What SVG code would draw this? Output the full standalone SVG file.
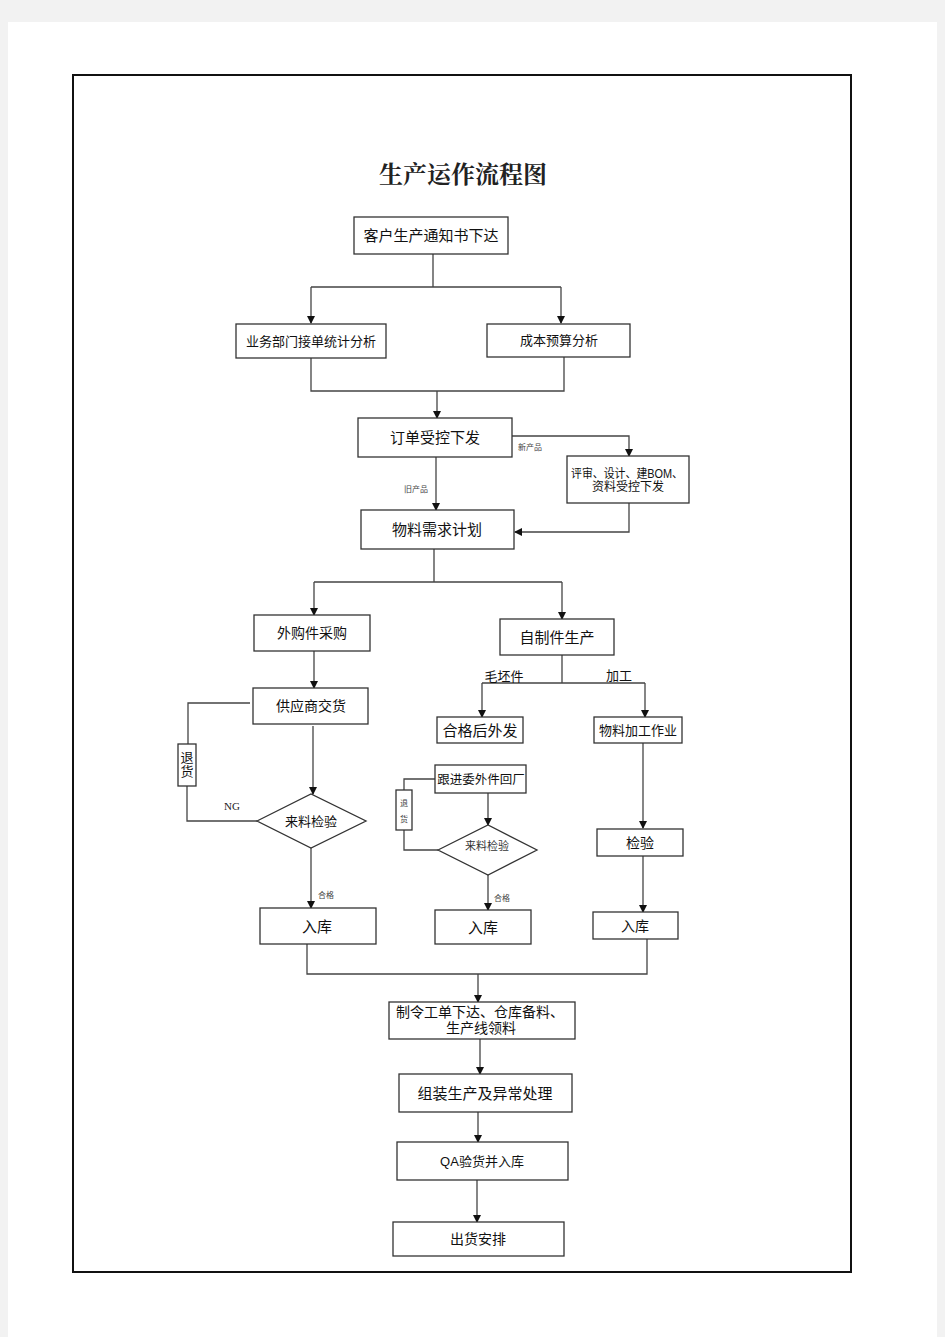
<svg xmlns="http://www.w3.org/2000/svg" width="945" height="1337" viewBox="0 0 945 1337">
<defs>
<marker id="ah" markerWidth="8" markerHeight="8" refX="7" refY="4" orient="auto" markerUnits="userSpaceOnUse">
<path d="M0,0 L8,4 L0,8 Z" fill="#111"/>
</marker>
<style>
.box{fill:#fff;stroke:#333;stroke-width:1.3}
.ln{fill:none;stroke:#444;stroke-width:1.3}
.t{font-family:"Liberation Sans","Noto Sans CJK SC",sans-serif;fill:#111;text-anchor:middle}
.s15{font-size:15px}
.s14{font-size:14px}
.s13{font-size:13px}
.sm{font-size:8px;fill:#444}
</style>
</defs>
<rect x="0" y="0" width="945" height="1337" fill="#f2f2f2"/>
<rect x="8" y="22" width="929" height="1315" fill="#fff"/>
<rect x="73" y="75" width="778" height="1197" fill="none" stroke="#111" stroke-width="2"/>
<text x="463" y="183" font-family="'Liberation Serif','Noto Serif CJK SC','Noto Sans CJK SC',serif" font-size="24" font-weight="bold" fill="#222" text-anchor="middle">生产运作流程图</text>

<g id="connectors">
<path class="ln" d="M433,254 V287 M311,287 H561"/>
<path class="ln" d="M311,287 V323" marker-end="url(#ah)"/>
<path class="ln" d="M561,287 V323" marker-end="url(#ah)"/>
<path class="ln" d="M311,358 V391 H564 V357"/>
<path class="ln" d="M437,391 V418" marker-end="url(#ah)"/>
<path class="ln" d="M512,436 H629 V456" marker-end="url(#ah)"/>
<path class="ln" d="M436,457 V510" marker-end="url(#ah)"/>
<path class="ln" d="M629,503 V532 H515" marker-end="url(#ah)"/>
<path class="ln" d="M434,549 V582 M314,582 H562"/>
<path class="ln" d="M314,582 V615" marker-end="url(#ah)"/>
<path class="ln" d="M562,582 V619" marker-end="url(#ah)"/>
<path class="ln" d="M314,651 V688" marker-end="url(#ah)"/>
<path class="ln" d="M250,703 H188 V744 M187,786 V821 H257"/>
<path class="ln" d="M313,726 V794" marker-end="url(#ah)"/>
<path class="ln" d="M311,848 V908" marker-end="url(#ah)"/>
<path class="ln" d="M562,655 V683 M482,683 H645"/>
<path class="ln" d="M482,683 V717" marker-end="url(#ah)"/>
<path class="ln" d="M645,683 V717" marker-end="url(#ah)"/>
<path class="ln" d="M435,779 H404 V790 M404,830 V850 H438"/>
<path class="ln" d="M488,793 V825" marker-end="url(#ah)"/>
<path class="ln" d="M488,875 V910" marker-end="url(#ah)"/>
<path class="ln" d="M643,743 V828" marker-end="url(#ah)"/>
<path class="ln" d="M643,856 V912" marker-end="url(#ah)"/>
<path class="ln" d="M307,944 V974 H647 V939"/>
<path class="ln" d="M478,974 V1002" marker-end="url(#ah)"/>
<path class="ln" d="M480,1039 V1074" marker-end="url(#ah)"/>
<path class="ln" d="M478,1112 V1142" marker-end="url(#ah)"/>
<path class="ln" d="M477,1180 V1222" marker-end="url(#ah)"/>
<text class="t sm" x="530" y="450">新产品</text>
<text class="t sm" x="416" y="492">旧产品</text>
<text x="232" y="810" font-family="'Liberation Serif',serif" font-size="11" fill="#222" text-anchor="middle">NG</text>
<text class="t sm" x="326" y="898">合格</text>
<text class="t sm" x="502" y="901">合格</text>
<text class="t s13" x="504" y="681">毛坯件</text>
<text class="t s13" x="619" y="680">加工</text>
</g>

<g id="n1"><rect class="box" x="354" y="217" width="154" height="37"/><text class="t s15" x="431" y="241">客户生产通知书下达</text></g>
<g id="n2"><rect class="box" x="236" y="324" width="150" height="34"/><text class="t s13" x="311" y="346">业务部门接单统计分析</text></g>
<g id="n3"><rect class="box" x="487" y="324" width="143" height="33"/><text class="t s13" x="559" y="345">成本预算分析</text></g>
<g id="n4"><rect class="box" x="358" y="418" width="154" height="39"/><text class="t s15" x="435" y="443">订单受控下发</text></g>
<g id="n5"><rect class="box" x="567" y="456" width="122" height="47"/><text class="t" style="font-size:12px" x="627" y="478" textLength="112" lengthAdjust="spacingAndGlyphs">评审、设计、建BOM、</text><text class="t" style="font-size:12px" x="628" y="491">资料受控下发</text></g>
<g id="n6"><rect class="box" x="361" y="510" width="153" height="39"/><text class="t s15" x="437" y="535">物料需求计划</text></g>
<g id="n7"><rect class="box" x="254" y="615" width="116" height="36"/><text class="t s14" x="312" y="638">外购件采购</text></g>
<g id="n8"><rect class="box" x="500" y="619" width="114" height="36"/><text class="t s15" x="557" y="643">自制件生产</text></g>
<g id="n9"><rect class="box" x="253" y="688" width="115" height="36"/><text class="t s14" x="311" y="711">供应商交货</text></g>
<g id="n10"><rect class="box" x="178" y="744" width="18" height="42"/><text class="t s13" x="187" y="762">退</text><text class="t s13" x="187" y="776">货</text></g>
<g id="n11"><polygon class="box" points="257,821 311,794 366,821 311,848"/><text class="t s13" x="311" y="826">来料检验</text></g>
<g id="n12"><rect class="box" x="260" y="908" width="116" height="36"/><text class="t s15" x="317" y="932">入库</text></g>
<g id="n13"><rect class="box" x="437" y="717" width="86" height="26"/><text class="t s15" x="480" y="736">合格后外发</text></g>
<g id="n14"><rect class="box" x="594" y="717" width="88" height="26"/><text class="t s13" x="638" y="735">物料加工作业</text></g>
<g id="n15"><rect class="box" x="435" y="765" width="91" height="28"/><text class="t" style="font-size:12.5px" x="481" y="784">跟进委外件回厂</text></g>
<g id="n16"><rect class="box" x="396" y="790" width="16" height="40"/><text class="t sm" x="404" y="806">退</text><text class="t sm" x="404" y="822">货</text></g>
<g id="n17"><polygon class="box" points="438,850 488,825 537,850 488,875"/><text class="t" style="font-size:11px;fill:#333" x="487" y="850">来料检验</text></g>
<g id="n18"><rect class="box" x="435" y="910" width="96" height="34"/><text class="t s15" x="483" y="933">入库</text></g>
<g id="n19"><rect class="box" x="597" y="829" width="86" height="27"/><text class="t s14" x="640" y="848">检验</text></g>
<g id="n20"><rect class="box" x="593" y="912" width="85" height="27"/><text class="t s14" x="635" y="931">入库</text></g>
<g id="n21"><rect class="box" x="389" y="1002" width="186" height="37"/><text class="t s14" x="480" y="1017">制令工单下达、仓库备料、</text><text class="t s14" x="481" y="1033">生产线领料</text></g>
<g id="n22"><rect class="box" x="399" y="1074" width="173" height="38"/><text class="t s15" x="485" y="1099">组装生产及异常处理</text></g>
<g id="n23"><rect class="box" x="397" y="1142" width="171" height="38"/><text class="t s13" x="482" y="1166">QA验货并入库</text></g>
<g id="n24"><rect class="box" x="393" y="1222" width="171" height="34"/><text class="t s14" x="478" y="1244">出货安排</text></g>
</svg>
